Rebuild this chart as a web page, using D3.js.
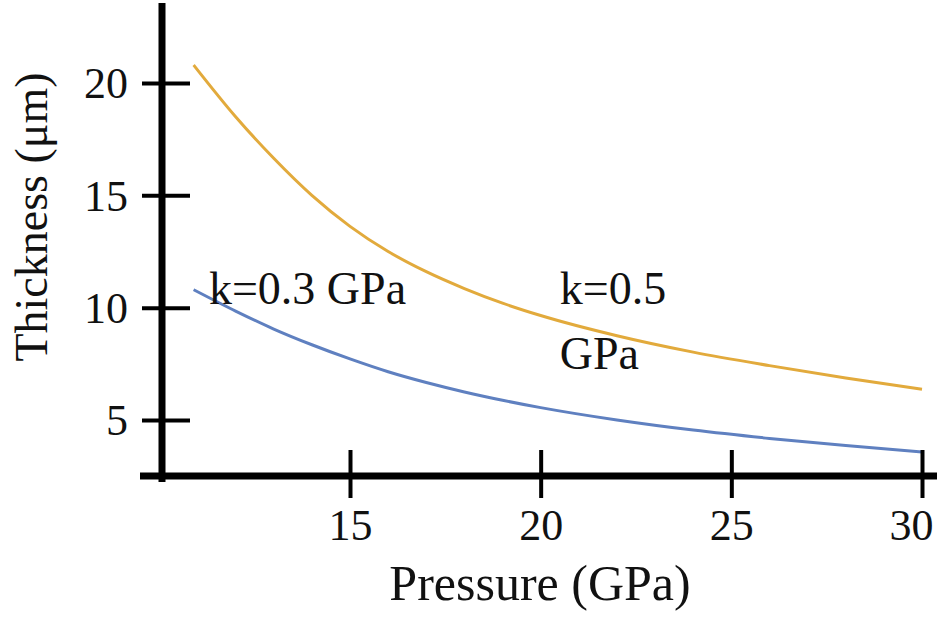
<!DOCTYPE html>
<html lang="en">
<head>
    <meta charset="UTF-8">
    <title>Thickness vs Pressure</title>
    <script src="https://d3js.org/d3.v7.min.js"></script>
    <style>
        body { margin: 0; background: #fff; }
        svg text { font-family: "Liberation Serif", "DejaVu Serif", serif; fill: #111; }
    </style>
</head>
<body>
    <svg id="chart" width="937" height="620"></svg>

    <script>
        // data
        const pressure = [10.9, 12, 13, 14, 15, 16, 17, 18, 19, 20, 22, 24, 26, 28, 30];
        const thicknessK05 = [20.8, 18.5, 16.65, 15.0, 13.62, 12.5, 11.6, 10.85, 10.2, 9.65, 8.75, 8.02, 7.42, 6.87, 6.37];
        const thicknessK03 = [10.8, 9.85, 9.05, 8.35, 7.72, 7.15, 6.67, 6.25, 5.88, 5.55, 5.0, 4.55, 4.18, 3.86, 3.58];
        const xTicks = [15, 20, 25, 30];
        const yTicks = [5, 10, 15, 20];
        const labels = [
            { lines: ["k=0.3 GPa"], p: 11.3, v: 10.0 },
            { lines: ["k=0.5", "GPa"], p: 20.5, v: 10.0 }
        ];

        const svg = d3.select("#chart");

        const x = d3.scaleLinear().domain([15, 30]).range([350, 922]);
        const y = d3.scaleLinear().domain([5, 20]).range([420, 83]);

        const axisY = 476;  // pixel row of x axis
        const axisX = 162;  // pixel column of y axis

        // curves
        const line = d3.line()
            .x(d => x(d[0]))
            .y(d => y(d[1]))
            .curve(d3.curveMonotoneX);

        svg.append("path")
            .datum(pressure.map((p, i) => [p, thicknessK05[i]]))
            .attr("fill", "none")
            .attr("stroke", "#e2aa3c")
            .attr("stroke-width", 3)
            .attr("d", line);

        svg.append("path")
            .datum(pressure.map((p, i) => [p, thicknessK03[i]]))
            .attr("fill", "none")
            .attr("stroke", "#5f80c0")
            .attr("stroke-width", 3)
            .attr("d", line);

        // y axis
        const gy = svg.append("g")
            .attr("transform", `translate(${axisX},0)`)
            .call(d3.axisLeft(y).tickValues(yTicks).tickSize(0).tickPadding(34));
        gy.select(".domain").remove();
        gy.selectAll(".tick line")
            .attr("x1", -20).attr("x2", 28)
            .attr("stroke", "#000").attr("stroke-width", 4);
        gy.selectAll(".tick text")
            .attr("font-size", 44).attr("dy", "0.34em");

        // x axis
        const gx = svg.append("g")
            .attr("transform", `translate(0,${axisY})`)
            .call(d3.axisBottom(x).tickValues(xTicks).tickSize(0));
        gx.select(".domain").remove();
        gx.selectAll(".tick line")
            .attr("y1", -26).attr("y2", 22)
            .attr("stroke", "#000").attr("stroke-width", 4);
        gx.selectAll(".tick text")
            .attr("font-size", 44).attr("y", 64).attr("dy", 0)
            .attr("x", d => d === 30 ? -11 : 0);

        // thick axis lines
        svg.append("line")
            .attr("x1", 140).attr("x2", 937)
            .attr("y1", axisY).attr("y2", axisY)
            .attr("stroke", "#000").attr("stroke-width", 7);
        svg.append("line")
            .attr("x1", axisX).attr("x2", axisX)
            .attr("y1", 3).attr("y2", 482)
            .attr("stroke", "#000").attr("stroke-width", 7);

        // axis titles
        svg.append("text")
            .attr("x", 540).attr("y", 600)
            .attr("text-anchor", "middle")
            .attr("font-size", 50)
            .text("Pressure (GPa)");

        svg.append("text")
            .attr("transform", "translate(47,217) rotate(-90)")
            .attr("text-anchor", "middle")
            .attr("font-size", 46)
            .text("Thickness (μm)");

        // curve labels
        labels.forEach(l => {
            const t = svg.append("text")
                .attr("x", x(l.p)).attr("y", y(l.v) - 4)
                .attr("font-size", 46);
            l.lines.forEach((s, i) => {
                t.append("tspan")
                    .attr("x", x(l.p))
                    .attr("dy", i === 0 ? 0 : 65)
                    .text(s);
            });
        });
    </script>
</body>
</html>
